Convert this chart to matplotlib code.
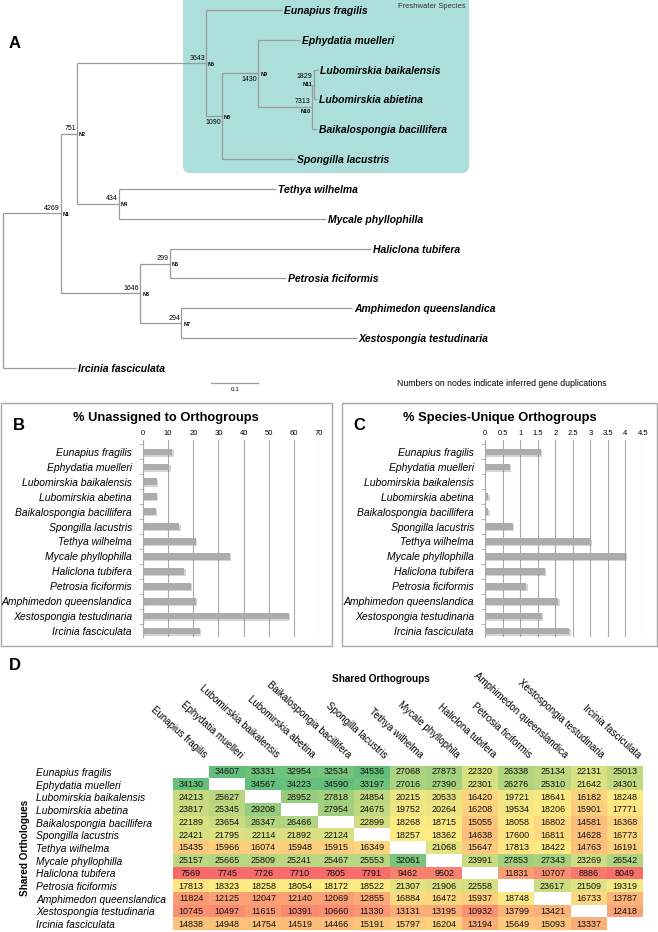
import numpy as np
import matplotlib
matplotlib.use('Agg')
import matplotlib.pyplot as plt
import matplotlib.patheffects as pe
from matplotlib import font_manager
from matplotlib.patches import FancyBboxPatch, Rectangle
from matplotlib.colors import LinearSegmentedColormap, TwoSlopeNorm
from matplotlib.transforms import offset_copy

# ---------------- data ----------------
species = ['Eunapius fragilis', 'Ephydatia muelleri', 'Lubomirskia baikalensis',
           'Lubomirskia abetina', 'Baikalospongia bacillifera', 'Spongilla lacustris',
           'Tethya wilhelma', 'Mycale phyllophilla', 'Haliclona tubifera',
           'Petrosia ficiformis', 'Amphimedon queenslandica',
           'Xestospongia testudinaria', 'Ircinia fasciculata']

# tree topology and node depths (substitutions/site from root)
tree_children = {
    'root': ['N1', 'Ircinia fasciculata'],
    'N1': ['N2', 'N3'],
    'N2': ['N5', 'N4'],
    'N5': ['Eunapius fragilis', 'N8'],
    'N8': ['N9', 'Spongilla lacustris'],
    'N9': ['Ephydatia muelleri', 'N10'],
    'N10': ['N11', 'Baikalospongia bacillifera'],
    'N11': ['Lubomirskia baikalensis', 'Lubomirskia abietina'],
    'N4': ['Tethya wilhelma', 'Mycale phyllophilla'],
    'N3': ['N6', 'N7'],
    'N6': ['Haliclona tubifera', 'Petrosia ficiformis'],
    'N7': ['Amphimedon queenslandica', 'Xestospongia testudinaria'],
}
tree_depth = {
    'root': 0.0, 'N1': 0.123, 'N2': 0.157, 'N5': 0.432, 'N8': 0.466, 'N9': 0.543,
    'N10': 0.657, 'N11': 0.661, 'N4': 0.247, 'N3': 0.292, 'N6': 0.355, 'N7': 0.379,
    'Eunapius fragilis': 0.594, 'Ephydatia muelleri': 0.632,
    'Lubomirskia baikalensis': 0.670, 'Lubomirskia abietina': 0.668,
    'Baikalospongia bacillifera': 0.668, 'Spongilla lacustris': 0.621,
    'Tethya wilhelma': 0.581, 'Mycale phyllophilla': 0.687,
    'Haliclona tubifera': 0.783, 'Petrosia ficiformis': 0.602,
    'Amphimedon queenslandica': 0.743, 'Xestospongia testudinaria': 0.753,
    'Ircinia fasciculata': 0.155,
}
duplications = {'N1': 4269, 'N2': 751, 'N3': 1646, 'N4': 434, 'N5': 3643, 'N6': 299,
                'N7': 294, 'N8': 1090, 'N9': 1430, 'N10': 7313, 'N11': 1829}

unassigned_pct = [11.6, 10.4, 5.4, 5.4, 5.0, 14.5, 21.1, 34.6, 16.4, 18.9, 20.9, 58.0, 22.7]
unique_pct = [1.59, 0.71, 0.0, 0.09, 0.09, 0.79, 3.01, 4.0, 1.70, 1.18, 2.09, 1.61, 2.40]

col_names = ['Eunapius fragilis', 'Ephydatia muelleri', 'Lubomirskia baikalensis',
             'Lubomirskia abetina', 'Baikalospongia bacillifera', 'Spongilla lacustris',
             'Tethya wilhelma', 'Mycale phyllophila', 'Haliclona tubifera',
             'Petrosia ficiformis', 'Amphimedon queenslandica',
             'Xestospongia testudinaria', 'Ircinia fasciculata']

shared = np.array([
    [None, 34607, 33331, 32954, 32534, 34536, 27068, 27873, 22320, 26338, 25134, 22131, 25013],
    [34130, None, 34567, 34223, 34590, 33197, 27016, 27390, 22301, 26276, 25310, 21642, 24301],
    [24213, 25627, None, 28952, 27818, 24854, 20215, 20533, 16420, 19721, 18641, 16182, 18248],
    [23817, 25345, 29208, None, 27954, 24675, 19752, 20264, 16208, 19534, 18206, 15901, 17771],
    [22189, 23654, 26347, 26466, None, 22899, 18268, 18715, 15055, 18058, 16802, 14581, 16368],
    [22421, 21795, 22114, 21892, 22124, None, 18257, 18362, 14638, 17600, 16811, 14628, 16773],
    [15435, 15966, 16074, 15948, 15915, 16349, None, 21068, 15647, 17813, 18422, 14763, 16191],
    [25157, 25665, 25809, 25241, 25467, 25553, 32061, None, 23991, 27853, 27343, 23269, 26542],
    [7569, 7745, 7726, 7710, 7805, 7791, 9462, 9502, None, 11831, 10707, 8886, 8049],
    [17813, 18323, 18258, 18054, 18172, 18522, 21307, 21906, 22558, None, 23617, 21509, 19319],
    [11824, 12125, 12047, 12140, 12069, 12855, 16884, 16472, 15937, 18748, None, 16733, 13787],
    [10745, 10497, 11615, 10391, 10660, 11330, 13131, 13195, 10932, 13799, 13421, None, 12418],
    [14838, 14948, 14754, 14519, 14466, 15191, 15797, 16204, 13194, 15649, 15093, 13337, None],
], dtype=float)

# ---------------- fonts ----------------
plt.rcParams['font.family'] = 'Liberation Sans'
have = {f.name for f in font_manager.fontManager.ttflist}
if 'Liberation Sans Narrow' in have:
    tip_font = dict(family='Liberation Sans Narrow', size=9)
    num_font = dict(family='Liberation Sans Narrow', size=6)
    nlab_font = dict(family='Liberation Sans Narrow', size=4.8)
else:
    tip_font = dict(family='Liberation Sans', size=7.5)
    num_font = dict(family='Liberation Sans', size=5)
    nlab_font = dict(family='Liberation Sans', size=4)

W, H = 658, 932
fig = plt.figure(figsize=(W / 100, H / 100), dpi=100)


def px_axes(x0, y0, x1, y1):
    return fig.add_axes([x0 / W, 1 - y1 / H, (x1 - x0) / W, (y1 - y0) / H])


# background layer in pixel coordinates
bg = fig.add_axes([0, 0, 1, 1])
bg.set_xlim(0, W)
bg.set_ylim(H, 0)
bg.axis('off')

bg.add_patch(FancyBboxPatch((183, -10), 286, 183, boxstyle='round,pad=0,rounding_size=7',
                            fc='#acdfdc', ec='none'))
bg.text(432, 6, 'Freshwater Species', fontsize=5.5, ha='center', va='center', color='#333333')
bg.text(502, 384, 'Numbers on nodes indicate inferred gene duplications',
        fontsize=6.3, ha='center', va='center')
for lab, (x, y) in {'A': (15, 44), 'B': (19, 425), 'C': (359, 425), 'D': (15, 665)}.items():
    bg.text(x, y, lab, fontsize=12, fontweight='bold', ha='center', va='center')

bg.add_patch(Rectangle((1, 403), 331, 243, fill=False, ec='#a8a8a8', lw=1))
bg.add_patch(Rectangle((342, 403), 315, 243, fill=False, ec='#a8a8a8', lw=1))
bg.text(166, 418, '% Unassigned to Orthogroups', fontsize=9.3, fontweight='bold',
        ha='center', va='center')
bg.text(500, 418, '% Species-Unique Orthogroups', fontsize=9.3, fontweight='bold',
        ha='center', va='center')
bg.text(381, 679, 'Shared Orthogroups', fontsize=7.2, fontweight='bold', ha='center', va='center')
bg.text(25, 848, 'Shared Orthologues', fontsize=7.2, fontweight='bold', ha='center',
        va='center', rotation=90)

# ---------------- A: tree ----------------
tx = px_axes(0, 0, W, 400)
tx.set_facecolor('none')
tx.axis('off')
tx.set_xlim(-3 / 470, (W - 3) / 470)
tx.set_ylim((400 - 10) / 29.83, -10 / 29.83)

ypos = {}
leaf_i = [0]


def place(node):
    kids = tree_children.get(node)
    if not kids:
        ypos[node] = leaf_i[0]
        leaf_i[0] += 1
        return
    for k in kids:
        place(k)
    ypos[node] = (ypos[kids[0]] + ypos[kids[-1]]) / 2


place('root')

lc = '#9a9a9a'
for node, kids in tree_children.items():
    x = tree_depth[node]
    tx.plot([x, x], [ypos[kids[0]], ypos[kids[-1]]], color=lc, lw=0.9, solid_capstyle='butt')
    for k in kids:
        tx.plot([x, tree_depth[k]], [ypos[k], ypos[k]], color=lc, lw=0.9, solid_capstyle='butt')
        if k not in tree_children:
            tx.annotate(k, (tree_depth[k], ypos[k]), xytext=(2, 0), textcoords='offset pixels',
                        ha='left', va='center_baseline', fontweight='bold', fontstyle='italic',
                        **tip_font)

for n, dup in duplications.items():
    x, y = tree_depth[n], ypos[n]
    dy = 5
    if n in ('N8', 'N9'):
        dy = -6
    if n == 'N11':
        dy = 8
    tx.annotate(str(dup), (x, y), xytext=(-1, dy), textcoords='offset pixels',
                ha='right', va='center', **num_font)
    nx, ny, nha = 2, -1, 'left'
    if n == 'N10':
        nx, ny, nha = -1, -5, 'right'
    if n == 'N11':
        nx, ny, nha = -1, 0, 'right'
    tx.annotate(n, (x, y), xytext=(nx, ny), textcoords='offset pixels',
                ha=nha, va='center', fontweight='bold', **nlab_font)

# scale bar
tx.plot([0.443, 0.543], [12.5, 12.5], color=lc, lw=0.9)
tx.annotate('0.1', (0.493, 12.5), xytext=(0, -7), textcoords='offset pixels',
            ha='center', va='center', fontsize=4.5)


# ---------------- B, C: bar panels ----------------
def bar_panel(x0, x1, vals, xmax, step):
    ax = px_axes(x0, 440, x1, 637)
    ax.set_facecolor('none')
    y = np.arange(len(species))
    bars = ax.barh(y, vals, height=0.45, color='#acacac', zorder=3)
    for b in bars:
        b.set_path_effects([pe.SimplePatchShadow(offset=(1, -1), shadow_rgbFace='#777777',
                                                 alpha=0.3), pe.Normal()])
    ax.set_xlim(0, xmax)
    ax.set_ylim(12.4, -0.8)
    ticks = np.arange(0, xmax + step / 2, step)
    ax.set_xticks(ticks)
    ax.set_xticklabels([f'{t:g}' for t in ticks])
    ax.xaxis.tick_top()
    ax.tick_params(axis='x', length=0, pad=2, labelsize=5.5)
    ax.grid(axis='x', color='#a8a8a8', lw=0.8)
    ax.set_axisbelow(True)
    for s in ['top', 'right', 'bottom']:
        ax.spines[s].set_visible(False)
    ax.spines['left'].set_color('#a8a8a8')
    ax.spines['left'].set_linewidth(0.8)
    ax.set_yticks(y)
    ax.set_yticklabels(species, fontstyle='italic', fontsize=7.5)
    ax.tick_params(axis='y', which='major', length=0, pad=8)
    ax.set_yticks(np.arange(-0.5, 12.5, 1), minor=True)
    ax.tick_params(axis='y', which='minor', length=3, color='#a8a8a8', width=0.6)
    return ax


bar_panel(143, 319, unassigned_pct, 70, 10)
bar_panel(485, 643, unique_pct, 4.5, 0.5)

# ---------------- D: heatmap ----------------
hx = px_axes(173, 765.5, 643, 930.5)
cmap = LinearSegmentedColormap.from_list('excel3', ['#F8696B', '#FFEB84', '#63BE7B'])
cmap.set_bad('white')
norm = TwoSlopeNorm(vmin=np.nanmin(shared), vcenter=np.nanmedian(shared),
                    vmax=np.nanmax(shared))
hx.imshow(np.ma.masked_invalid(shared), cmap=cmap, norm=norm, aspect='auto',
          interpolation='nearest')
for i in range(shared.shape[0]):
    for j in range(shared.shape[1]):
        if not np.isnan(shared[i, j]):
            hx.text(j, i, f'{int(shared[i, j])}', ha='center', va='center', fontsize=6.5,
                    color='#111111')
for s in hx.spines.values():
    s.set_visible(False)
hx.set_xticks([])
hx.set_yticks(range(len(species)))
hx.set_yticklabels(species, fontstyle='italic', fontsize=7.4, ha='left')
hx.tick_params(axis='y', length=0, pad=137 * 0.72)

col_trans = offset_copy(hx.get_xaxis_transform(), fig=fig, x=12, y=7, units='dots')
for j, name in enumerate(col_names):
    hx.text(j, 1, name, transform=col_trans, rotation=-42, rotation_mode='anchor',
            ha='right', va='baseline', fontsize=7)

fig.savefig('out.png', dpi=100)
